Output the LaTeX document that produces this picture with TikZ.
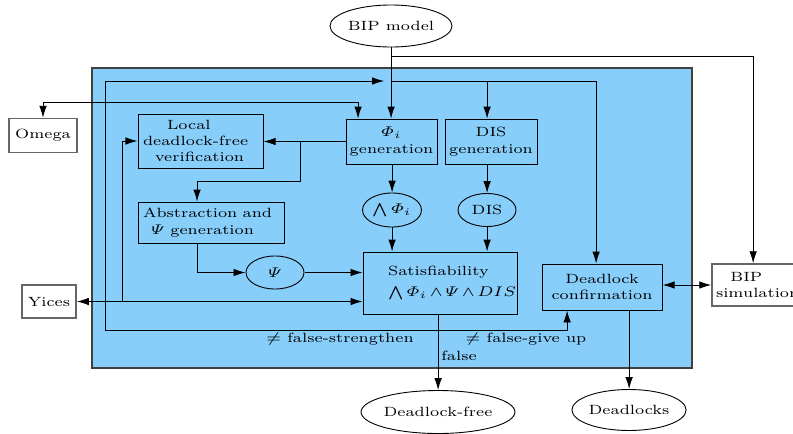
\documentclass[tikz,border=0pt]{standalone}
\usepackage{amsmath}
\usetikzlibrary{shapes.geometric,arrows.meta}
\definecolor{skyb}{RGB}{135,206,250}
\def\myux{0.416667pt}
\tikzset{
  base/.style={font=\fontsize{6.7}{8.2}\selectfont},
  bx/.style 2 args={base, draw, rectangle, minimum width={#1*\myux}, minimum height={#2*0.5pt}, inner sep=0pt, align=center},
  lbx/.style n args={3}{base, draw, rectangle, text width={(#1-2*#2)*\myux}, inner xsep={#2*\myux}, inner ysep=0pt, minimum height={#3*0.5pt}, align=left},
  ell/.style 2 args={base, draw, ellipse, minimum width={#1*\myux}, minimum height={#2*0.5pt}, inner sep=0pt},
  outer/.style={draw=black!60, line width=0.75pt, fill=white},
}
\begin{document}
\begin{tikzpicture}[x=\myux, y=-0.5pt, xscale=1.2, transform shape, line width=0.45pt, >={Latex[length=6pt,width=3.8pt]}]
\path[use as bounding box] (0,0) rectangle (793,434);
\fill[skyb] (92,68) rectangle (692,368);
\draw[black!75, line width=0.7pt] (92,68) rectangle (692,368);

\node[ell={98}{42}] (bm) at (391,26) {BIP model};
\node[bx={68}{34}, outer] (om) at (43,135.5) {Omega};
\node[lbx={125}{5}{54}] (loc) at (200.5,141) {\hspace*{1.5em}Local\\deadlock-free\\\hspace*{0.75em}verification};
\node[bx={91}{45}] (phi) at (391.5,141.5) {$\varPhi_i$\\generation};
\node[bx={92}{45}] (dg) at (491,141.5) {DIS\\generation};
\node[lbx={146}{5}{41}] (abs) at (211,222.5) {Abstraction and\\\hspace*{0.5em}$\varPsi$ generation};
\node[ell={59}{34}] (aphi) at (392,210) {$\bigwedge\varPhi_i$};
\node[ell={58}{33}] (dis) at (487,210) {DIS};
\node[ell={58}{33}] (psi) at (275,272.5) {$\varPsi$};
\node[lbx={154}{1}{62}] (sat) at (440,283) {\hspace*{1.5em}Satisfiability\\[2.5pt]\hspace*{1.5em}$\bigwedge\varPhi_i\wedge\varPsi\wedge DIS$};
\node[bx={120}{46}] (dc) at (602,287) {Deadlock\\confirmation};
\node[lbx={90}{4}{42}, outer] (bs) at (757,285) {\hspace*{0.9em}BIP\\simulation};
\node[bx={54}{33}, outer] (yi) at (49,301.5) {Yices};
\node[ell={134}{43}] (df) at (438,412) {Deadlock-free};
\node[ell={97}{41}] (dl) at (629,410) {Deadlocks};

\node[base] (l1) at (340,339) {$\neq$ false-strengthen};
\node[base] (l2) at (526,339) {$\neq$ false-give up};
\node[base] (l3) at (459,356) {false};

% BIP model outputs
\coordinate (j1) at (391,56);
\coordinate (j5) at (753,56);
\draw[->] (bm.south) -- (bm.south |- phi.north);
\draw (j1) -- (j5);
\draw[->] (j5) -- (j5 |- bs.north);
\coordinate (j2) at (391,81);
\coordinate (j3) at (487,81);
\coordinate (j4) at (596,81);
\draw (j2) -- (j4);
\draw[->] (j3) -- (j3 |- dg.north);
\draw[->] (j4) -- (j4 |- dc.north);

% satisfiability results
\coordinate (c1) at (438,330);
\coordinate (c0) at (105,330);
\coordinate (c5) at (105,81);
\coordinate (c6) at (384,81);
\coordinate (c2) at (567,330);
\draw[->] (df.north |- sat.south) -- (df.north);
\draw[->] (c1) -- (c0) -- (c5) -- (c6);
\draw[->] (c1) -- (c2) -- (c2 |- dc.south);

% Omega
\coordinate (o1) at (358,102);
\draw[<->] (om.north) |- (o1) -- (o1 |- phi.north);

% Phi generation to local / abstraction
\draw[->] (phi.west) -- (phi.west -| loc.east);
\coordinate (b1) at (300,141.5);
\coordinate (b2) at (197,181);
\draw[->] (b1) |- (b2) -- (b2 |- abs.north);
\draw[->] (abs.south -| b2) |- (psi.west);
\draw[->] (psi.east) -- (psi.east -| sat.west);

% Yices
\draw[<->] (yi.east) -- (yi.east -| sat.west);
\coordinate (y1) at (122,301.5);
\draw[->] (y1) |- (loc.west);

% vertical chains
\draw[->] (aphi.north |- phi.south) -- (aphi.north);
\draw[->] (aphi.south) -- (aphi.south |- sat.north);
\draw[->] (j3 |- dg.south) -- (dis.north);
\draw[->] (dis.south) -- (dis.south |- sat.north);
\draw[<->] (dc.east |- bs.west) -- (bs.west);
\draw[->] (dl.north |- dc.south) -- (dl.north);
\end{tikzpicture}
\end{document}
